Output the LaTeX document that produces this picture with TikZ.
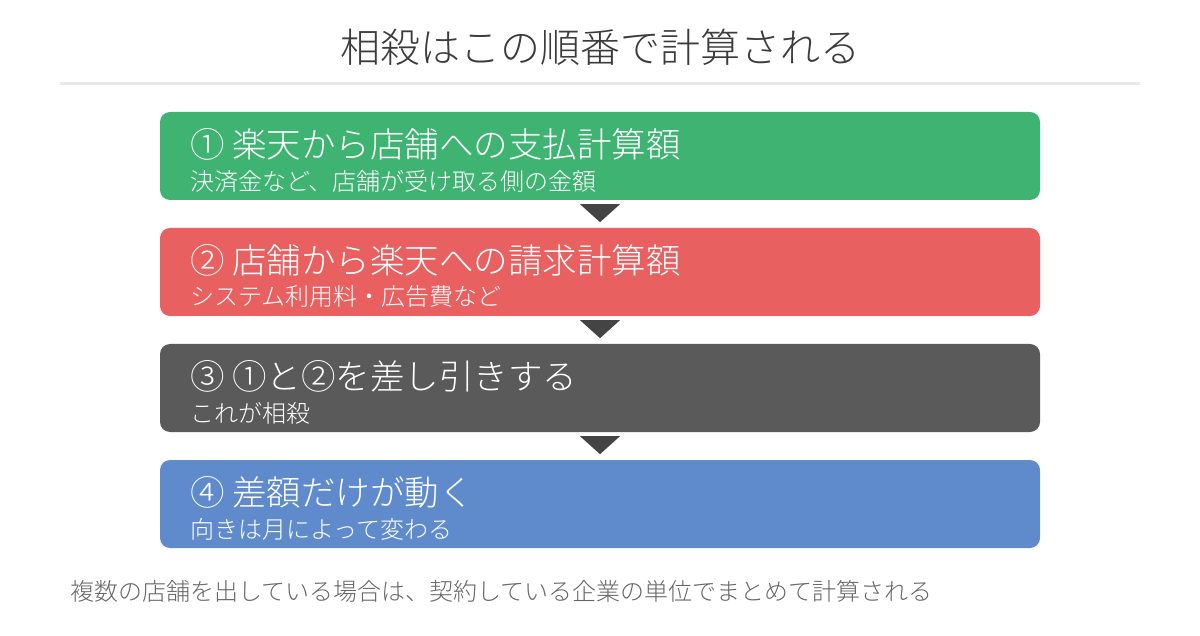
\documentclass[tikz,border=0pt]{standalone}
\usepackage{fontspec}
\setmainfont{Noto Sans CJK JP Light}
\definecolor{titlegray}{RGB}{60,60,60}
\definecolor{rulegray}{RGB}{232,232,232}
\definecolor{footgray}{RGB}{102,102,102}
\definecolor{tricolor}{RGB}{68,68,68}
\definecolor{stepgreen}{RGB}{63,179,114}
\definecolor{stepred}{RGB}{232,96,96}
\definecolor{stepdark}{RGB}{90,90,90}
\definecolor{stepblue}{RGB}{95,139,205}

\begin{document}
\begin{tikzpicture}[x=1pt,y=-1pt,
  box/.style={rounded corners=10pt, minimum width=880pt, minimum height=88pt, inner sep=0pt},
  headtext/.style={anchor=west, inner sep=0pt, white, font=\fontsize{34.5}{40}\selectfont},
  subtext/.style={anchor=west, inner sep=0pt, white, font=\fontsize{24}{28}\selectfont}]
\useasboundingbox (0,0) rectangle (1200,636);
% Title and the rule under it
\node[titlegray, font=\fontsize{40}{46}\selectfont] (title) at (600,47) {相殺はこの順番で計算される};
\draw[rulegray, line width=3pt] (60,84) -- (1140,84);
% The four steps
\node[box, fill=stepgreen] (box1) at (600,156) {};
\node[headtext] (head1) at ([xshift=30pt,yshift=12pt]box1.west) {① 楽天から店舗への支払計算額};
\node[subtext] (sub1) at ([xshift=30pt,yshift=-25pt]box1.west) {決済金など、店舗が受け取る側の金額};
\node[box, fill=stepred] (box2) at (600,272) {};
\node[headtext] (head2) at ([xshift=30pt,yshift=12pt]box2.west) {② 店舗から楽天への請求計算額};
\node[subtext] (sub2) at ([xshift=30pt,yshift=-25pt]box2.west) {システム利用料・広告費など};
\node[box, fill=stepdark] (box3) at (600,388) {};
\node[headtext] (head3) at ([xshift=30pt,yshift=12pt]box3.west) {③ ①と②を差し引きする};
\node[subtext] (sub3) at ([xshift=30pt,yshift=-25pt]box3.west) {これが相殺};
\node[box, fill=stepblue] (box4) at (600,504) {};
\node[headtext] (head4) at ([xshift=30pt,yshift=12pt]box4.west) {④ 差額だけが動く};
\node[subtext] (sub4) at ([xshift=30pt,yshift=-25pt]box4.west) {向きは月によって変わる};
% Triangles between the steps
\foreach \i in {1,2,3}
  \fill[tricolor] ([xshift=-20pt,yshift=-4pt]box\i.south) -- ([xshift=20pt,yshift=-4pt]box\i.south)
    -- ([yshift=-22pt]box\i.south) -- cycle;
% Note under the steps
\node[anchor=west, inner sep=0pt, footgray, font=\fontsize{24}{28}\selectfont] (note) at (70,591)
  {複数の店舗を出している場合は、契約している企業の単位でまとめて計算される};
\end{tikzpicture}
\end{document}
